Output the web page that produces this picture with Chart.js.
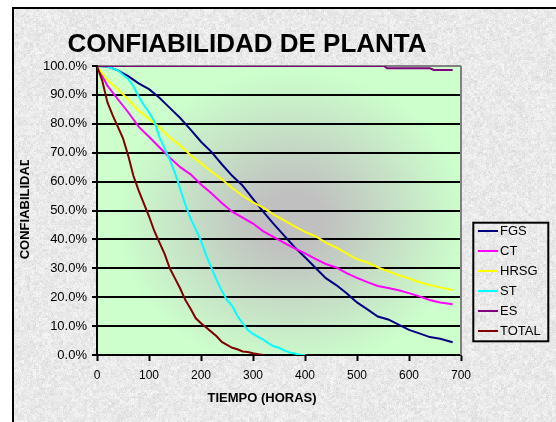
<!DOCTYPE html>
<html>
<head>
<meta charset="utf-8">
<script src="https://cdn.jsdelivr.net/npm/chart.js@4.4.1/dist/chart.umd.min.js"></script>
<style>
html,body{margin:0;padding:0;background:#fff;}
#wrap{position:relative;width:556px;height:422px;}
</style>
</head>
<body>
<div id="wrap"><canvas id="c" width="556" height="422"></canvas></div>
<script>
// ---- data ----
const titleText = 'CONFIABILIDAD DE PLANTA';
const xTitle = 'TIEMPO (HORAS)';
const yTitle = 'CONFIABILIDAD';
const seriesNames = ['FGS', 'CT', 'HRSG', 'ST', 'ES', 'TOTAL'];
const seriesColors = ['#000080', '#ff00ff', '#ffff00', '#00ffff', '#800080', '#800000'];

const hoursLong = [0,20,40,60,80,100,120,140,160,180,200,220,240,260,280,300,320,340,360,380,400,420,440,460,480,500,520,540,560,580,600,620,640,660,684];
const fgsValues = [100,99.8,98.5,96.5,94,92,89,85.5,82,78,73.8,70.3,66,62,58.6,54,49.5,45.3,41.3,37.3,33.8,30.2,26.6,24.2,21.4,18.2,15.8,13.3,12.3,10.5,8.7,7.5,6.2,5.6,4.4];
const ctValues = [100,93.2,88.5,84,79,75.5,71.9,68.3,65,62.5,59,56,52.6,49.6,47.5,45.5,42.8,40.8,38.8,36.9,35.2,33.3,31.5,30.3,28.3,26.7,25.2,23.9,23.2,22.4,21.4,20.3,19,18.2,17.6];
const hrsgValues = [100,95.2,92,88.4,84.6,81.7,78.8,75.3,72.6,69.1,66.4,63.5,60.8,57.8,55.1,52.8,51,48.6,46.6,44.5,42.6,41.1,38.9,37.2,35.2,33.2,32,30.3,29,27.6,26.5,25.2,24.2,23.4,22.5];

const stHours = [0,20,40,50,60,70,80,90,100,110,120,130,140,150,160,170,180,190,200,210,220,230,240,250,260,270,280,290,300,310,320,330,340,350,360,370,380,390,400];
const stValues = [100,99.8,98.5,97,95.5,93,89.5,86.5,84,81,75.5,71.5,67.5,63,57.5,52,47.2,43.5,39.5,34.5,30.2,26,22.2,19,17,13.5,11,8.6,7.3,6.3,5.3,4,3,2.5,1.6,0.9,0.5,0.1,0];

const esHours = [0,552,558,640,648,684];
const esValues = [100,100,99.2,99.2,98.6,98.6];

const totalHours = [0,10,20,30,40,50,60,70,80,90,100,110,120,130,140,150,160,170,180,190,200,210,220,230,240,250,260,270,280,290,300,310,320];
const totalValues = [100,95,87.5,83,79,75,69,62,57,52.5,48,43,39,35,30,26.5,23,19,16,12.7,11,9.5,8,6.5,4.5,3.5,2.5,2,1.2,1,0.6,0.3,0];

const xTicks = [0,100,200,300,400,500,600,700];
const yTicks = [0,10,20,30,40,50,60,70,80,90,100];

function pts(h, v){ return h.map((x,i)=>({x:x, y:v[i]})); }
const seriesData = [
  pts(hoursLong, fgsValues),
  pts(hoursLong, ctValues),
  pts(hoursLong, hrsgValues),
  pts(stHours, stValues),
  pts(esHours, esValues),
  pts(totalHours, totalValues)
];

const FONT = "'Liberation Sans', Arial, Helvetica, sans-serif";

// ---- granite-like texture (deterministic) ----
const tex = document.createElement('canvas');
tex.width = 556; tex.height = 422;
(function(){
  const tctx = tex.getContext('2d');
  const img = tctx.createImageData(556, 422);
  function hash(i){ let s = Math.sin(i*12.9898 + 78.233)*43758.5453; return s - Math.floor(s); }
  for (let y=0; y<422; y++){
    for (let x=0; x<556; x++){
      const i = y*556 + x;
      const n = hash(i);
      const m = hash(Math.floor(x/3)*977 + Math.floor(y/3)*131 + 7);
      let v = 234 + (n-0.5)*18 + (m-0.5)*14;
      if (n > 0.96) v -= 22;
      v = Math.max(180, Math.min(250, v));
      img.data[i*4] = v; img.data[i*4+1] = v; img.data[i*4+2] = v; img.data[i*4+3] = 255;
    }
  }
  tctx.putImageData(img, 0, 0);
})();

const decorPlugin = {
  id: 'decor',
  beforeDraw(chart){
    const ctx = chart.ctx;
    const a = chart.chartArea;
    ctx.save();
    ctx.fillStyle = '#ffffff';
    ctx.fillRect(0,0,556,422);
    ctx.drawImage(tex, 0, 0);
    ctx.fillStyle = '#ffffff';
    ctx.fillRect(0,0,12,422);
    ctx.fillRect(0,0,556,7);
    // plot area gradient (from centre)
    const cx = 292, cy = 220, rx = 175, ry = 150;
    ctx.save();
    ctx.beginPath();
    ctx.rect(a.left, a.top, a.right-a.left, a.bottom-a.top);
    ctx.clip();
    ctx.fillStyle = '#ccffcc';
    ctx.fillRect(a.left, a.top, a.right-a.left, a.bottom-a.top);
    ctx.translate(cx, cy);
    ctx.scale(1, ry/rx);
    const g = ctx.createRadialGradient(0,0,0,0,0,rx);
    g.addColorStop(0, '#c0c0c0');
    g.addColorStop(0.18, '#c0c0c0');
    g.addColorStop(1, '#ccffcc');
    ctx.fillStyle = g;
    ctx.fillRect(-600, -600, 1200, 1200);
    ctx.restore();
    // outer border
    ctx.strokeStyle = '#000';
    ctx.lineWidth = 2;
    ctx.beginPath();
    ctx.moveTo(13, 430); ctx.lineTo(13, 8); ctx.lineTo(560, 8);
    ctx.stroke();
    ctx.restore();
  },
  afterDatasetsDraw(chart){
    const ctx = chart.ctx;
    const a = chart.chartArea;
    ctx.save();
    ctx.strokeStyle = '#808080';
    ctx.lineWidth = 2;
    ctx.beginPath();
    ctx.moveTo(a.right, a.bottom); ctx.lineTo(a.right, a.top);
    ctx.stroke();
    ctx.restore();
  },
  afterDraw(chart){
    const ctx = chart.ctx;
    ctx.save();
    // title
    ctx.fillStyle = '#000';
    ctx.font = 'bold 26px ' + FONT;
    ctx.textAlign = 'center';
    ctx.textBaseline = 'alphabetic';
    ctx.fillText(titleText, 247, 52);
    // x title
    ctx.font = 'bold 13px ' + FONT;
    ctx.textBaseline = 'middle';
    ctx.fillText(xTitle, 262, 398);
    // y title (clipped like the original)
    ctx.save();
    ctx.beginPath();
    ctx.rect(0, 160, 60, 200);
    ctx.clip();
    ctx.translate(25, 208);
    ctx.rotate(-Math.PI/2);
    ctx.fillText(yTitle, 0, 0);
    ctx.restore();
    // legend
    ctx.strokeStyle = '#000';
    ctx.lineWidth = 2;
    ctx.strokeRect(473.3, 222.7, 75, 118.6);
    ctx.font = '13px ' + FONT;
    ctx.textAlign = 'left';
    ctx.textBaseline = 'middle';
    seriesNames.forEach((name, i) => {
      const y = 231 + i*20;
      ctx.strokeStyle = seriesColors[i];
      ctx.lineWidth = 2;
      ctx.beginPath();
      ctx.moveTo(478, y); ctx.lineTo(498, y);
      ctx.stroke();
      ctx.fillStyle = '#000';
      ctx.fillText(name, 500, y + 0.5);
    });
    ctx.restore();
  }
};

const datasets = seriesNames.map((name, i) => ({
  label: name,
  data: seriesData[i],
  borderColor: seriesColors[i],
  backgroundColor: seriesColors[i],
  borderWidth: 2,
  pointRadius: 0,
  tension: 0,
  fill: false,
  order: seriesNames.length - i
}));

new Chart(document.getElementById('c'), {
  type: 'line',
  data: { datasets },
  plugins: [decorPlugin],
  options: {
    responsive: false,
    animation: false,
    devicePixelRatio: 1,
    layout: { padding: { left: 0, top: 66, right: 95, bottom: 0 } },
    plugins: { legend: { display: false }, tooltip: { enabled: false }, title: { display: false } },
    scales: {
      x: {
        type: 'linear',
        min: 0, max: 700,
        afterFit(scale){ scale.height = 67; },
        afterBuildTicks(scale){ scale.ticks = xTicks.map(v => ({ value: v })); },
        ticks: { color: '#000', font: { family: FONT, size: 12 }, padding: 7, maxRotation: 0, autoSkip: false },
        grid: { drawOnChartArea: false, drawTicks: true, tickLength: 6, tickColor: '#000', tickWidth: 2 },
        border: { display: true, color: '#000', width: 2 }
      },
      y: {
        type: 'linear',
        min: 0, max: 100,
        afterFit(scale){ scale.width = 97; },
        afterBuildTicks(scale){ scale.ticks = yTicks.map(v => ({ value: v })); },
        ticks: { color: '#000', font: { family: FONT, size: 13 }, padding: 5, autoSkip: false,
                 callback: (v) => Number(v).toFixed(1) + '%' },
        grid: { color: (c) => (c.tick && c.tick.value === 100) ? '#808080' : '#000',
                lineWidth: 2, drawTicks: true, tickLength: 5, tickColor: '#000', tickWidth: 2 },
        border: { display: true, color: '#000', width: 2 }
      }
    }
  }
});
</script>
</body>
</html>
